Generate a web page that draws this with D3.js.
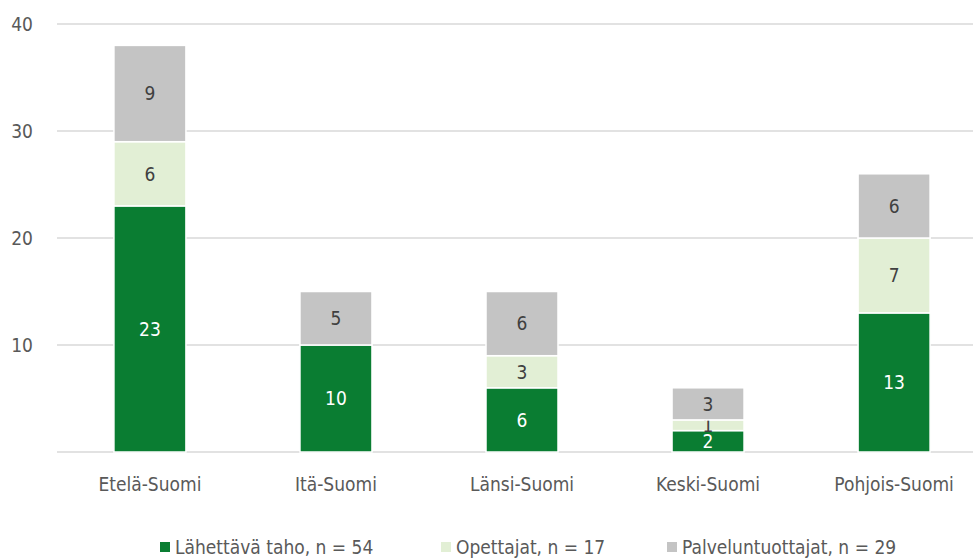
<!DOCTYPE html>
<html>
<head>
<meta charset="utf-8">
<script src="https://cdn.jsdelivr.net/npm/d3@7"></script>
<style>
  body { margin: 0; background: #fff; }
  text { font-family: "Liberation Sans Narrow", "DejaVu Sans Condensed", sans-serif; }
</style>
</head>
<body>
<div id="chart"></div>
<script>
// data
var regions = ["Etelä-Suomi", "Itä-Suomi", "Länsi-Suomi", "Keski-Suomi", "Pohjois-Suomi"];
var lahettava = [23, 10, 6, 2, 13];
var opettajat = [6, 0, 3, 1, 7];
var palvelu = [9, 5, 6, 3, 6];
var seriesNames = ["Lähettävä taho, n = 54", "Opettajat, n = 17", "Palveluntuottajat, n = 29"];
var seriesColors = ["#0a7d32", "#e2efd5", "#c4c4c4"];
var labelColors = ["#ffffff", "#404040", "#404040"];
var yTicks = [10, 20, 30, 40];

var width = 973, height = 558;
var svg = d3.select("#chart").append("svg")
    .attr("width", width)
    .attr("height", height);

var x = d3.scaleBand()
    .domain(regions)
    .range([57, 987])
    .paddingInner(0.613)
    .paddingOuter(0.306);

var y = d3.scaleLinear()
    .domain([0, 40])
    .range([452, 24]);

// gridlines
svg.append("g").selectAll("line")
    .data([0].concat(yTicks))
    .enter().append("line")
    .attr("x1", 57).attr("x2", width)
    .attr("y1", function (d) { return y(d); })
    .attr("y2", function (d) { return y(d); })
    .style("stroke", "#d9d9d9")
    .style("stroke-width", 1.5);

// y labels
svg.append("g").selectAll("text")
    .data(yTicks)
    .enter().append("text")
    .attr("x", 33)
    .attr("y", function (d) { return y(d); })
    .attr("dy", "0.35em")
    .attr("text-anchor", "end")
    .style("font-size", "19px")
    .style("fill", "#595959")
    .text(function (d) { return d; });

var table = regions.map(function (r, i) {
    return { region: r, s0: lahettava[i], s1: opettajat[i], s2: palvelu[i] };
});
var stack = d3.stack().keys(["s0", "s1", "s2"])(table);

var layers = svg.append("g").selectAll("g")
    .data(stack)
    .enter().append("g");

layers.selectAll("rect")
    .data(function (d) { return d.filter(function (p) { return p[1] > p[0]; }); })
    .enter().append("rect")
    .attr("x", function (d) { return x(d.data.region); })
    .attr("width", x.bandwidth())
    .attr("y", function (d) { return y(d[1]); })
    .attr("height", function (d) { return y(d[0]) - y(d[1]); })
    .style("fill", function (d) { return seriesColors[stack.indexOf(this.parentNode.__data__)]; })
    .style("stroke", "#ffffff")
    .style("stroke-width", 1.5);

layers.each(function (layer, li) {
    d3.select(this).selectAll("text")
        .data(layer.filter(function (p) { return p[1] > p[0]; }))
        .enter().append("text")
        .attr("x", function (d) { return x(d.data.region) + x.bandwidth() / 2; })
        .attr("y", function (d) { return y((d[0] + d[1]) / 2); })
        .attr("dy", "0.36em")
        .attr("text-anchor", "middle")
        .style("font-size", "19px")
        .style("fill", labelColors[li])
        .text(function (d) { return d[1] - d[0]; });
});

// x labels
svg.append("g").selectAll("text")
    .data(regions)
    .enter().append("text")
    .attr("x", function (d) { return x(d) + x.bandwidth() / 2; })
    .attr("y", 491)
    .attr("text-anchor", "middle")
    .style("font-size", "19px")
    .style("fill", "#595959")
    .text(function (d) { return d; });

// legend
var legend = svg.append("g");
var legendX = [160, 441, 667];
seriesNames.forEach(function (name, i) {
    legend.append("rect")
        .attr("x", legendX[i]).attr("y", 542)
        .attr("width", 10).attr("height", 10)
        .style("fill", seriesColors[i]);
    legend.append("text")
        .attr("x", legendX[i] + 15).attr("y", 554)
        .style("font-size", "19px")
        .style("fill", "#595959")
        .text(name);
});
</script>
</body>
</html>
